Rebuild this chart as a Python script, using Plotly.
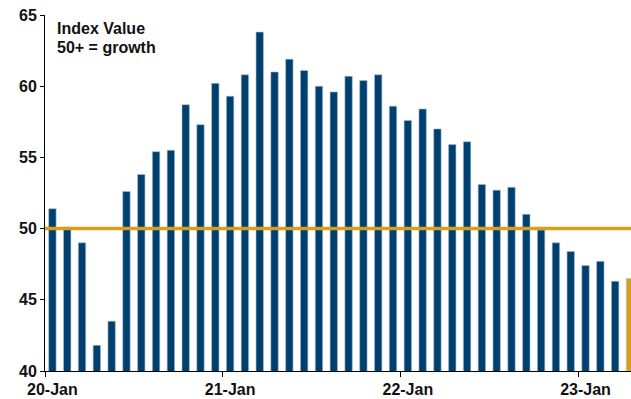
import plotly.graph_objects as go
import pandas as pd

# Monthly index readings, Jan 2020 - Apr 2023
months = pd.date_range("2020-01-01", periods=40, freq="MS")
month_labels = [m.strftime("%b %Y") for m in months]
index_values = [
    51.4, 50.1, 49.0, 41.8, 43.5, 52.6, 53.8, 55.4, 55.5, 58.7, 57.3, 60.2,
    59.3, 60.8, 63.8, 61.0, 61.9, 61.1, 60.0, 59.6, 60.7, 60.4, 60.8, 58.6,
    57.6, 58.4, 57.0, 55.9, 56.1, 53.1, 52.7, 52.9, 51.0, 49.9, 49.0, 48.4,
    47.4, 47.7, 46.3, 46.5,
]
growth_threshold = 50
y_ticks = [40, 45, 50, 55, 60, 65]
note_lines = ["Index Value", "50+ = growth"]

NAVY = "#00406F"
GOLD = "#D6A01C"
FONT = "Liberation Sans, Arial"

positions = list(range(len(index_values)))
jan_positions = [i for i, m in enumerate(months) if m.month == 1]
jan_labels = [months[i].strftime("%y-%b") for i in jan_positions]
year_boundaries = [p - 0.5 for p in jan_positions]

bar_colors = [NAVY] * (len(index_values) - 1) + [GOLD]

fig = go.Figure()
fig.add_trace(go.Bar(
    x=positions,
    y=index_values,
    customdata=month_labels,
    hovertemplate="%{customdata}: %{y}<extra></extra>",
    marker=dict(color=bar_colors, line=dict(color="#A9BED3", width=0.6)),
    width=0.5,
    showlegend=False,
))

# 50 = threshold between contraction and growth
fig.add_shape(
    type="line", xref="paper", yref="y",
    x0=0, x1=1, y0=growth_threshold, y1=growth_threshold,
    line=dict(color=GOLD, width=3.5), layer="above",
)

for line_text, y_pos in zip(note_lines, [0.963, 0.91]):
    fig.add_annotation(
        text=f"<b>{line_text}</b>",
        xref="paper", yref="paper", x=0.017, y=y_pos,
        xanchor="left", yanchor="middle", align="left", showarrow=False,
        font=dict(family=FONT, size=16, color="#111111"),
    )

tick_font = dict(family=FONT, size=16, color="#111111", weight="bold")

fig.update_layout(
    width=631, height=399,
    margin=dict(l=45, r=0, t=15, b=28),
    plot_bgcolor="white", paper_bgcolor="white",
    bargap=0.5,
    font=dict(family=FONT, size=16, color="#111111"),
    xaxis=dict(
        range=[-0.5, 39.07],
        tickmode="array", tickvals=jan_positions, ticktext=jan_labels,
        ticks="", showgrid=False, zeroline=False,
        showline=True, linecolor="black", linewidth=1,
        tickfont=tick_font, ticklabelstandoff=4,
        minor=dict(
            tickmode="array", tickvals=year_boundaries,
            ticks="outside", ticklen=5, tickcolor="black", tickwidth=1, showgrid=False,
        ),
    ),
    yaxis=dict(
        range=[40, 65],
        tickmode="array", tickvals=y_ticks,
        ticks="outside", ticklen=4, tickcolor="black",
        showgrid=False, zeroline=False,
        showline=True, linecolor="black", linewidth=1,
        tickfont=tick_font,
    ),
)

fig.write_html("out.html")
